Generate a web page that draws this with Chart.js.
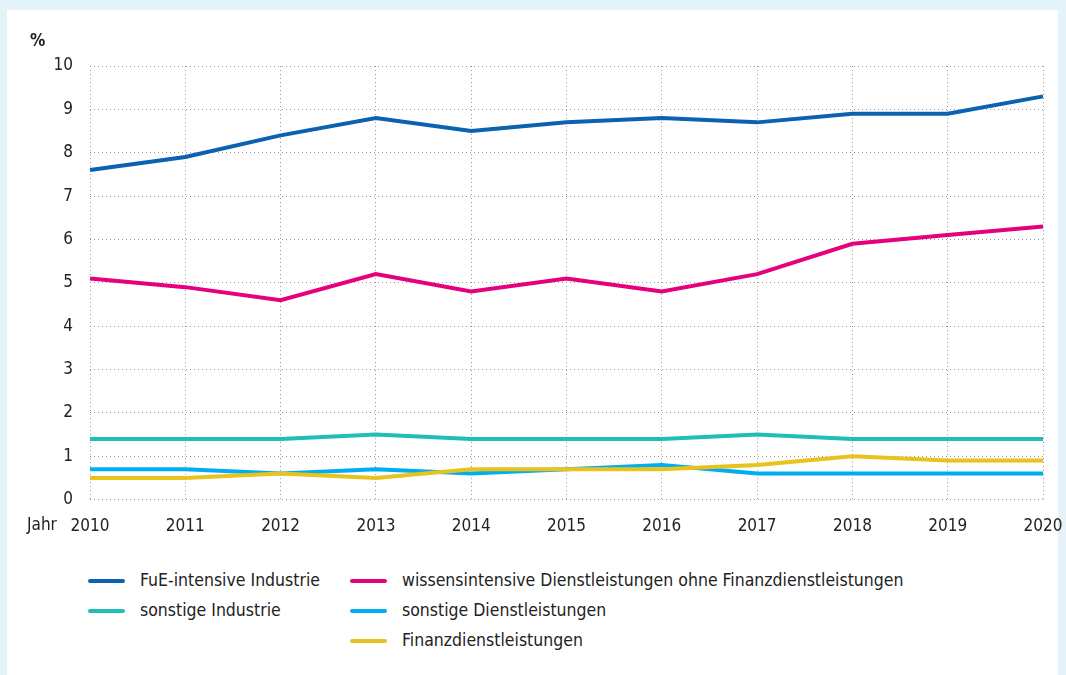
<!DOCTYPE html>
<html>
<head>
<meta charset="utf-8">
<script src="https://cdn.jsdelivr.net/npm/chart.js@4/dist/chart.umd.min.js"></script>
<style>
  body { margin: 0; background: #e4f2fa; width: 1066px; height: 675px; overflow: hidden; font-family: 'DejaVu Sans Condensed', 'DejaVu Sans', sans-serif; color: #222; }
  #panel { position: absolute; left: 7px; top: 10px; width: 1051px; height: 665px; background: #fff; }
  #wrap { position: absolute; left: 0; top: 0; width: 1066px; height: 564px; }
  .lbl { position: absolute; font-size: 17px; }
  #legend { position: absolute; left: 0; top: 0; }
  .item { position: absolute; font-size: 17.5px; white-space: nowrap; }
  .item span { display: inline-block; width: 37px; height: 4px; border-radius: 2px; vertical-align: middle; margin-right: 15px; }
</style>
</head>
<body>
<div id="panel"></div>
<div id="wrap"><canvas id="myChart" width="1066" height="564"></canvas></div>
<div class="lbl" style="left:30px; top:30px; font-weight:bold;">%</div>
<div class="lbl" style="left:27px; top:514px;">Jahr</div>
<div id="legend"></div>
<script>
'use strict'
// data
let years = ['2010', '2011', '2012', '2013', '2014', '2015', '2016', '2017', '2018', '2019', '2020'];
let fueIndustrie = [7.6, 7.9, 8.4, 8.8, 8.5, 8.7, 8.8, 8.7, 8.9, 8.9, 9.3];
let wissensDienst = [5.1, 4.9, 4.6, 5.2, 4.8, 5.1, 4.8, 5.2, 5.9, 6.1, 6.3];
let sonstIndustrie = [1.4, 1.4, 1.4, 1.5, 1.4, 1.4, 1.4, 1.5, 1.4, 1.4, 1.4];
let sonstDienst = [0.7, 0.7, 0.6, 0.7, 0.6, 0.7, 0.8, 0.6, 0.6, 0.6, 0.6];
let finanzDienst = [0.5, 0.5, 0.6, 0.5, 0.7, 0.7, 0.7, 0.8, 1.0, 0.9, 0.9];
let yTicks = [0, 1, 2, 3, 4, 5, 6, 7, 8, 9, 10];

let seriesNames = ['FuE-intensive Industrie', 'wissensintensive Dienstleistungen ohne Finanzdienstleistungen', 'sonstige Industrie', 'sonstige Dienstleistungen', 'Finanzdienstleistungen'];
let seriesData = [fueIndustrie, wissensDienst, sonstIndustrie, sonstDienst, finanzDienst];
let seriesColors = ['#0b62b0', '#e6007e', '#22bcb9', '#00aeef', '#e8c31e'];

let datasets = [];
for (let i = 0; i < seriesNames.length; i++) {
    datasets.push({
        label: seriesNames[i],
        data: seriesData[i],
        borderColor: seriesColors[i],
        backgroundColor: seriesColors[i],
        borderWidth: 4,
        pointRadius: 0,
        tension: 0,
        fill: false
    });
}
// draw the lower series first like the original
datasets.reverse();

let tickFont = { family: "'DejaVu Sans Condensed', 'DejaVu Sans', sans-serif", size: 17 };

let ctx = document.getElementById('myChart').getContext('2d');
let myChart = new Chart(ctx, {
    type: 'line',
    data: { labels: years, datasets: datasets },
    options: {
        responsive: false,
        animation: false,
        layout: { padding: { top: 66, right: 23, bottom: 10, left: 0 } },
        plugins: { legend: { display: false }, tooltip: { enabled: false } },
        scales: {
            x: {
                offset: false,
                afterFit: function (scale) { scale.paddingLeft = 0; scale.paddingRight = 0; },
                border: { display: false, dash: [1, 3] },
                grid: { color: '#9a9a9a', drawTicks: false, lineWidth: 1 },
                ticks: { color: '#222', font: tickFont, padding: 17, maxRotation: 0 }
            },
            y: {
                min: 0,
                max: 10,
                afterFit: function (scale) { scale.width = 90; },
                afterBuildTicks: function (scale) { scale.ticks = yTicks.map(v => ({ value: v })); },
                border: { display: false, dash: [1, 3] },
                grid: { color: '#9a9a9a', drawTicks: false, lineWidth: 1 },
                ticks: { color: '#222', font: tickFont, padding: 17 }
            }
        }
    }
});

// legend in two columns like the original
let legendEl = document.getElementById('legend');
let legendPos = [[88, 570], [350, 570], [88, 600], [350, 600], [350, 630]];
for (let i = 0; i < seriesNames.length; i++) {
    let item = document.createElement('div');
    item.className = 'item';
    item.style.left = legendPos[i][0] + 'px';
    item.style.top = legendPos[i][1] + 'px';
    let swatch = document.createElement('span');
    swatch.style.background = seriesColors[i];
    item.appendChild(swatch);
    item.appendChild(document.createTextNode(seriesNames[i]));
    legendEl.appendChild(item);
}
</script>
</body>
</html>
